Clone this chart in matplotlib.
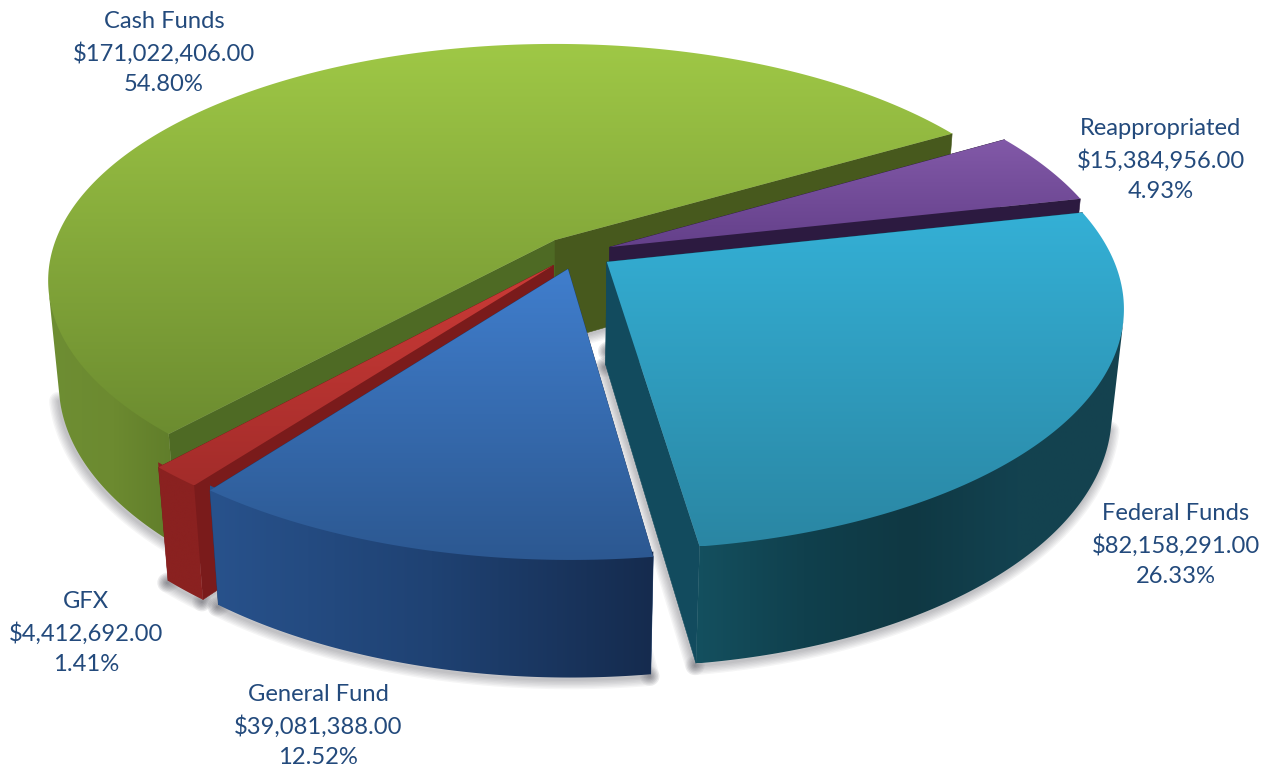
"""3D-style budget pie drawn on a pixel canvas with a small pinhole projection."""
import numpy as np
import matplotlib
matplotlib.use("Agg")
import matplotlib.pyplot as plt
from matplotlib.colors import LinearSegmentedColormap
from matplotlib.path import Path
from matplotlib.patches import PathPatch

# ---- data (clockwise from the GFX/Cash boundary) ----
labels = ["Cash Funds", "Reappropriated", "Federal Funds", "General Fund", "GFX"]
amounts = [171022406.00, 15384956.00, 82158291.00, 39081388.00, 4412692.00]
percents = [54.80, 4.93, 26.33, 12.52, 1.41]

# ---- layout ----
W, H = 1279, 772
label_xy = [(164, 53), (1161, 160), (1176, 545), (86, 633), (318, 726)]
label_order = [0, 1, 2, 4, 3]
explode = [(0.0, 0.0), (0.107, -0.030), (0.100, -0.092), (0.025, -0.121), (-0.003, -0.106)]
start_deg = 227.5
R, THICK = 0.98, 0.23

# camera
CX, CY, F, D0 = 555.0, 240.0, 2578.0, 5.06
PHI = np.radians(27.4)
SP, CP = np.sin(PHI), np.cos(PHI)


def project(x, y, z=0.0):
    depth = D0 + y * CP - z * SP
    return CX + F * x / depth, CY - F * (y * SP + z * CP) / depth


# ---- colours: top gradient, outer wall gradient, entry radial wall, exit radial wall ----
top_cols = [("#9fc846", "#6c8c30"), ("#8259a8", "#64408a"), ("#34b0d6", "#2a86a3"),
            ("#407ecd", "#2c5891"), ("#cc3b37", "#a32c2a")]
wall_cols = [["#6e8e33", "#6c8a30", "#5f7c2a"], ["#2c1a40", "#2c1a40"],
             ["#14505f", "#10404d", "#0f3843", "#134250", "#15424f"], ["#28528c", "#1f4273", "#152b4e"],
             ["#8a2120", "#8a2120"]]
start_wall = ["#4e6a24", "#2c1a40", "#124b5e", "#1d3d6b", "#7a1b1b"]
end_wall = ["#47591d", "#2c1a40", "#124b5e", "#1d3d6b", "#7a1b1b"]
text_col = "#234a7c"

fig = plt.figure(figsize=(W / 100, H / 100), dpi=100)
ax = fig.add_axes([0, 0, 1, 1])
ax.set_xlim(0, W); ax.set_ylim(H, 0); ax.axis("off")
z_now = [10]


def grad_fill(poly, cols, vertical=False):
    """Fill a polygon with a linear gradient, clipped imshow style."""
    poly = np.asarray(poly)
    x0, x1, y0, y1 = poly[:, 0].min(), poly[:, 0].max(), poly[:, 1].min(), poly[:, 1].max()
    ramp = np.linspace(0, 1, 256)
    grad = ramp[:, None] if vertical else ramp[None, :]
    cmap = LinearSegmentedColormap.from_list("g", cols)
    z_now[0] += 1
    im = ax.imshow(grad, cmap=cmap, extent=(x0, x1, y1, y0), aspect="auto",
                   interpolation="bilinear", zorder=z_now[0])
    patch = PathPatch(Path(np.vstack([poly, poly[0]]), closed=True), transform=ax.transData,
                      fc="none", ec="none")
    ax.add_patch(patch)
    im.set_clip_path(patch)
    ax.set_xlim(0, W); ax.set_ylim(H, 0)


def solid(poly, col):
    z_now[0] += 1
    ax.fill(poly[:, 0], poly[:, 1], color=col, lw=0.4, zorder=z_now[0])


def soft_shadow(line):
    # stacked wide strokes under the bottom edges
    for lw in (2, 4, 6, 8, 10, 12, 14):
        ax.plot(line[:, 0] - 1, line[:, 1] + 2, color="#20202c", alpha=0.045, lw=lw,
                solid_capstyle="round", zorder=1)


# ---- slices ----
fracs = np.array(amounts) / np.sum(amounts)
ends = start_deg - np.cumsum(fracs) * 360
starts = np.r_[start_deg, ends[:-1]]
draw_order = [0, 1, 2, 4, 3]

for i in draw_order:
    ex, ey = explode[i]
    th = np.radians(np.linspace(starts[i], ends[i], 300))
    ux, uy = ex + R * np.cos(th), ey + R * np.sin(th)

    # radial walls
    a0 = np.c_[project(np.array([ex, ux[0]]), np.array([ey, uy[0]]), 0.0)]
    b0 = np.c_[project(np.array([ex, ux[0]]), np.array([ey, uy[0]]), -THICK)]
    a1 = np.c_[project(np.array([ex, ux[-1]]), np.array([ey, uy[-1]]), 0.0)]
    b1 = np.c_[project(np.array([ex, ux[-1]]), np.array([ey, uy[-1]]), -THICK)]
    soft_shadow(b0)
    soft_shadow(b1)
    solid(np.vstack([a0, b0[::-1]]), start_wall[i])
    solid(np.vstack([a1, b1[::-1]]), end_wall[i])

    # outer wall: only the part whose normal faces the camera
    facing = np.cos(th) * (0 - ux) + np.sin(th) * (-D0 * CP - uy) > 0
    if facing.sum() > 1:
        # starts a hair above the top face so no seam shows along the rim
        top_arc = np.c_[project(ux[facing], uy[facing], 0.01)]
        bot_arc = np.c_[project(ux[facing], uy[facing], -THICK)]
        soft_shadow(bot_arc)
        grad_fill(np.vstack([top_arc, bot_arc[::-1]]), wall_cols[i])

    top = np.vstack([np.c_[project(np.array([ex]), np.array([ey]), 0.0)],
                     np.c_[project(ux, uy, 0.0)]])
    grad_fill(top, top_cols[i], vertical=True)

# ---- labels ----
for i, (x, y) in zip(label_order, label_xy):
    ax.text(x, y, f"{labels[i]}\n${amounts[i]:,.2f}\n{percents[i]:.2f}%", ha="center", va="center",
            ma="center", family=["Lato", "DejaVu Sans"], fontsize=17.1, color=text_col,
            linespacing=1.54, zorder=200)

fig.savefig("out.png", dpi=100)
